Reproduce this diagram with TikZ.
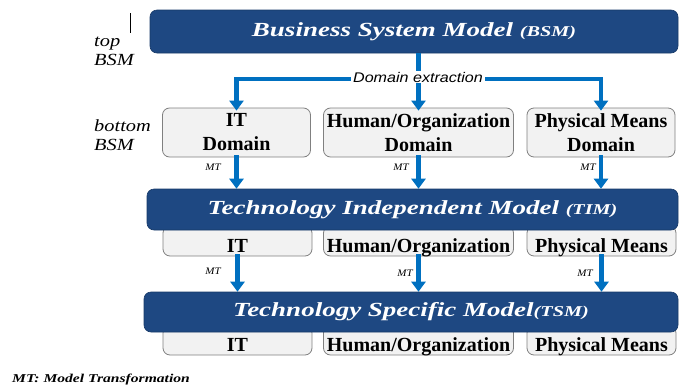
\documentclass[tikz,border=0pt]{standalone}
\usepackage{fontspec}
\setmainfont{Liberation Serif}
\newfontfamily\dxfont{Liberation Sans}
\usetikzlibrary{arrows.meta}
\definecolor{barblue}{RGB}{30,72,130}
\definecolor{arrblue}{RGB}{0,112,192}
\definecolor{boxfill}{RGB}{242,242,242}
\definecolor{boxline}{RGB}{128,128,128}
\tikzset{
  bar/.style={fill=barblue, draw=barblue!80!black, line width=0.6pt, rounded corners=7pt, text=white, inner sep=0pt},
  dombox/.style={fill=boxfill, draw=boxline, line width=0.8pt, rounded corners=7pt, inner sep=0pt, align=center, font=\fontsize{20}{24}\selectfont\bfseries},
  subbox/.style={fill=boxfill, draw=boxline, line width=0.8pt, rounded corners=7pt, inner sep=0pt, text height=22pt, text depth=0pt, font=\fontsize{20}{24}\selectfont\bfseries},
  bluearrow/.style={draw=arrblue, line width=4.4pt, -{Triangle[width=14pt,length=10pt]}},
  blueline/.style={draw=arrblue, line width=4.4pt},
  mtlabel/.style={inner sep=0pt, font=\fontsize{10}{12}\selectfont\itshape},
  sidelabel/.style={inner sep=0pt, align=left, anchor=west, font=\fontsize{17}{19}\selectfont\itshape}
}
\newcommand{\bartitle}[2]{\scalebox{1.35}[1]{\fontsize{20}{24}\selectfont\bfseries\itshape #1{\fontsize{15}{18}\selectfont#2}}}
\begin{document}
\begin{tikzpicture}[x=1pt,y=-1pt]
\useasboundingbox (0,0) rectangle (681,389);
% BSM bar
\node[bar, minimum width=528pt, minimum height=43pt] (bsm) at (414,31.5) {\bartitle{Business System Model }{(BSM)}};
% side labels
\draw[line width=0.8pt] (130,13) -- (130,33);
\node[sidelabel] (toplbl) at (94,51) {\scalebox{1.2}[1]{top}\\\scalebox{1.2}[1]{BSM}};
\node[sidelabel] (botlbl) at (94,135) {\scalebox{1.2}[1]{bottom}\\\scalebox{1.2}[1]{BSM}};
% domain boxes
\node[dombox, minimum width=148pt, minimum height=49pt] (itd) at (236.5,132.5) {IT\\Domain};
\node[dombox, minimum width=190pt, minimum height=49pt] (hod) at (418.5,132.5) {Human/Organization\\Domain};
\node[dombox, minimum width=148pt, minimum height=49pt] (pmd) at (601,132.5) {Physical Means\\Domain};
% domain extraction
\coordinate (dx) at (418.5,79);
\coordinate (dl) at (236.5,79);
\coordinate (dr) at (601,79);
\draw[blueline] (bsm.south -| dx) -- (dx);
\draw[blueline, line cap=butt] ([xshift=-2.2pt]dl) -- ([xshift=2.2pt]dr);
\draw[bluearrow] ([yshift=-2.2pt]dl) -- ([yshift=-3pt]itd.north);
\draw[bluearrow] (dx) -- ([yshift=-3pt]hod.north);
\draw[bluearrow] ([yshift=-2.2pt]dr) -- ([yshift=-3pt]pmd.north);
\node[fill=white, inner xsep=2pt, inner ysep=1pt, font=\dxfont\fontsize{14}{16}\selectfont\itshape] (dxlbl) at (418,77) {\scalebox{1.15}[1]{Domain extraction}};
% TIM sub boxes (drawn before bar)
\node[subbox, minimum width=149pt, minimum height=30pt] (itt) at (237.5,241) {IT};
\node[subbox, minimum width=190pt, minimum height=30pt] (hot) at (418.5,241) {Human/Organization};
\node[subbox, minimum width=149pt, minimum height=30pt] (pmt) at (601.5,241) {Physical Means};
\node[bar, minimum width=531pt, minimum height=41pt] (tim) at (412.5,209.5) {\bartitle{Technology Independent Model }{(TIM)}};
% MT arrows row 1
\draw[bluearrow] ([yshift=2pt]itd.south) -- (itd.south |- tim.north);
\draw[bluearrow] ([yshift=2pt]hod.south) -- (hod.south |- tim.north);
\draw[bluearrow] ([yshift=2pt]pmd.south) -- (pmd.south |- tim.north);
\node[mtlabel] (mt1) at (213,167) {\scalebox{1.1}[1]{MT}};
\node[mtlabel] (mt2) at (401,167) {\scalebox{1.1}[1]{MT}};
\node[mtlabel] (mt3) at (588,167) {\scalebox{1.1}[1]{MT}};
% TSM sub boxes
\node[subbox, minimum width=149pt, minimum height=29pt] (its) at (237.5,340.5) {IT};
\node[subbox, minimum width=190pt, minimum height=29pt] (hos) at (418.5,340.5) {Human/Organization};
\node[subbox, minimum width=149pt, minimum height=29pt] (pms) at (601.5,340.5) {Physical Means};
\node[bar, minimum width=534pt, minimum height=40pt] (tsm) at (411,312) {\bartitle{Technology Specific Model}{(TSM)}};
% MT arrows row 2
\draw[bluearrow] ([yshift=2pt]itt.south) -- (itt.south |- tsm.north);
\draw[bluearrow] ([yshift=2pt]hot.south) -- (hot.south |- tsm.north);
\draw[bluearrow] ([yshift=2pt]pmt.south) -- (pmt.south |- tsm.north);
\node[mtlabel] (mt4) at (213,271) {\scalebox{1.1}[1]{MT}};
\node[mtlabel] (mt5) at (405,273) {\scalebox{1.1}[1]{MT}};
\node[mtlabel] (mt6) at (585,273) {\scalebox{1.1}[1]{MT}};
% legend
\node[inner sep=0pt, anchor=west, font=\fontsize{12}{14}\selectfont\bfseries\itshape] (legend) at (12,380) {\scalebox{1.3}[1]{MT: Model Transformation}};
\end{tikzpicture}
\end{document}
